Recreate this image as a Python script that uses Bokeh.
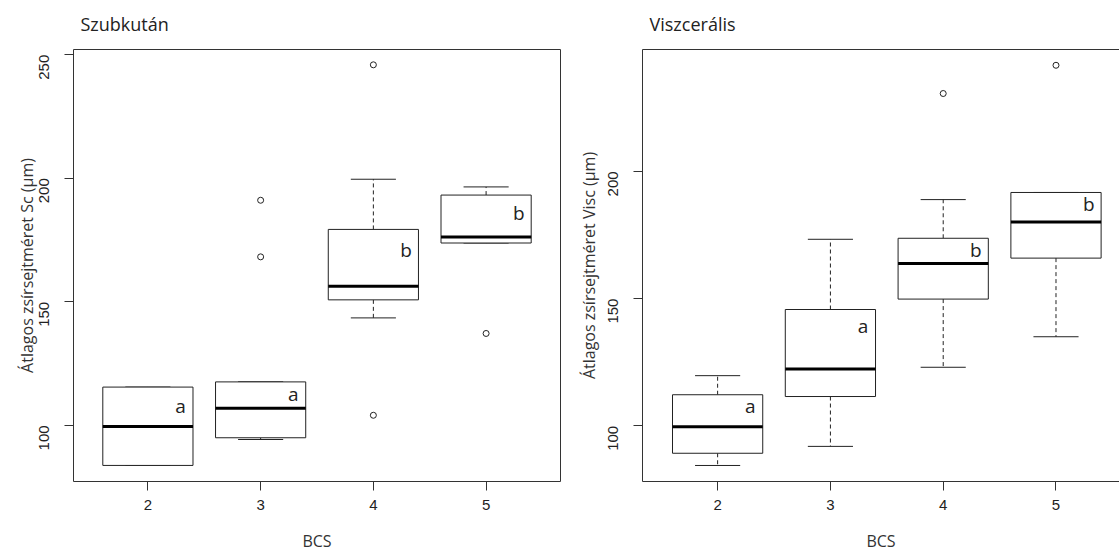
from bokeh.plotting import figure
from bokeh.models import Range1d, FixedTicker, LinearAxis, ColumnDataSource
from bokeh.layouts import row
from bokeh.core.properties import value
from bokeh.embed import file_html
from bokeh.resources import INLINE

# ---------------- data ----------------
bcs = ["2", "3", "4", "5"]

# Szubkután panel
sc_low = [83.8, 94.3, 143.5, 173.8]
sc_q1 = [83.8, 95.0, 150.8, 173.8]
sc_med = [99.6, 106.9, 156.3, 176.2]
sc_q3 = [115.5, 117.6, 179.3, 193.2]
sc_high = [115.5, 117.6, 199.6, 196.5]
sc_out_bcs = ["3", "3", "4", "4", "5"]
sc_out_val = [191.1, 168.2, 245.9, 104.1, 137.2]
sc_letters = ["a", "a", "b", "b"]
sc_letter_y = [107.7, 112.6, 170.9, 186.0]

# Viszcerális panel
vi_low = [84.4, 91.9, 123.0, 135.0]
vi_q1 = [89.2, 111.5, 149.8, 165.9]
vi_med = [99.6, 122.3, 163.8, 180.1]
vi_q3 = [112.2, 145.7, 173.7, 191.7]
vi_high = [119.7, 173.3, 188.9, 191.7]
vi_out_bcs = ["4", "5"]
vi_out_val = [230.6, 241.7]
vi_letters = ["a", "a", "b", "b"]
vi_letter_y = [107.6, 139.2, 168.9, 187.0]

sc_yticks = [100, 150, 200, 250]
vi_yticks = [100, 150, 200]

TXT = "Open Sans"
NUM = "Liberation Sans"
INK = "#222222"
EDGE = "#333333"


def style_axis(ax, ticks, overrides=None):
    ax.ticker = FixedTicker(ticks=ticks)
    if overrides:
        ax.major_label_overrides = overrides
    ax.minor_tick_line_color = None
    ax.major_tick_in = 0
    ax.major_tick_out = 9
    ax.major_tick_line_color = EDGE
    ax.axis_line_color = EDGE
    ax.major_label_text_font = NUM
    ax.major_label_text_font_size = "15px"
    ax.major_label_text_color = INK
    ax.axis_label_text_font = TXT
    ax.axis_label_text_font_size = "16px"
    ax.axis_label_text_font_style = "normal"
    ax.axis_label_text_color = "#333333"


def edge_axis(p, side):
    ax = LinearAxis(ticker=FixedTicker(ticks=[]), axis_line_color=EDGE,
                    major_tick_line_color=None, minor_tick_line_color=None,
                    major_tick_out=0, major_tick_in=0, major_label_standoff=0,
                    major_label_text_font_size="0px")
    p.add_layout(ax, side)


def panel(title, ylabel, low, q1, med, q3, high, out_bcs, out_val,
          letters, letter_y, yticks, xr, yr, width, mbl, mbr, right_edge,
          ylab_standoff, t_standoff):
    pos = [i + 1 for i in range(len(bcs))]
    p = figure(width=width, height=554, x_range=Range1d(*xr), y_range=Range1d(*yr),
               output_backend="svg", toolbar_location=None,
               min_border_left=mbl, min_border_right=mbr,
               min_border_top=49, min_border_bottom=73)
    p.grid.visible = False
    p.outline_line_color = None
    p.background_fill_color = "white"
    p.border_fill_color = "white"

    p.title.text = title
    p.title.align = "left"
    p.title.vertical_align = "top"
    p.title.offset = 7
    p.title.text_font = TXT
    p.title.text_font_size = "18px"
    p.title.text_font_style = "normal"
    p.title.text_color = "#222222"
    p.title.standoff = t_standoff

    src = ColumnDataSource(dict(
        x=pos,
        left=[x - 0.4 for x in pos], right=[x + 0.4 for x in pos],
        sl=[x - 0.2 for x in pos], sr=[x + 0.2 for x in pos],
        low=low, q1=q1, med=med, q3=q3, high=high,
        lx=[x + 0.29 for x in pos], ly=letter_y, txt=letters,
    ))
    # whiskers
    p.segment(x0="x", y0="q3", x1="x", y1="high", source=src,
              line_color=INK, line_width=1, line_dash="4 3")
    p.segment(x0="x", y0="q1", x1="x", y1="low", source=src,
              line_color=INK, line_width=1, line_dash="4 3")
    # staples
    p.segment(x0="sl", y0="high", x1="sr", y1="high", source=src,
              line_color=INK, line_width=1)
    p.segment(x0="sl", y0="low", x1="sr", y1="low", source=src,
              line_color=INK, line_width=1)
    # boxes
    p.quad(left="left", right="right", bottom="q1", top="q3", source=src,
           fill_color="white", line_color=INK, line_width=1)
    # medians
    p.segment(x0="left", y0="med", x1="right", y1="med", source=src,
              line_color="black", line_width=3)
    # outliers
    ox = [bcs.index(b) + 1 for b in out_bcs]
    p.scatter(ox, out_val, marker="circle", size=6, fill_color=None,
              line_color=INK, line_width=1)
    # group letters
    p.text(x="lx", y="ly", text="txt", source=src, text_align="center",
           text_baseline="middle", text_font=value(TXT),
           text_font_size="19px", text_color="#222222")

    style_axis(p.xaxis[0], pos, {i + 1: b for i, b in enumerate(bcs)})
    style_axis(p.yaxis[0], yticks)
    p.xaxis.axis_label = "BCS"
    p.yaxis.axis_label = ylabel
    p.xaxis.major_label_standoff = 9
    p.xaxis.axis_label_standoff = 17
    p.yaxis.major_label_orientation = 1.5708
    p.yaxis.major_label_standoff = 20
    p.yaxis.axis_label_standoff = ylab_standoff

    edge_axis(p, "above")
    if right_edge:
        edge_axis(p, "right")
    return p


p1 = panel("Szubkután", "Átlagos zsírsejtméret Sc (µm)",
           sc_low, sc_q1, sc_med, sc_q3, sc_high, sc_out_bcs, sc_out_val,
           sc_letters, sc_letter_y, sc_yticks,
           (0.34, 4.66), (77.3, 252.1), 562, 73, 2, True, -6, 23)
p2 = panel("Viszcerális", "Átlagos zsírsejtméret Visc (µm)",
           vi_low, vi_q1, vi_med, vi_q3, vi_high, vi_out_bcs, vi_out_val,
           vi_letters, vi_letter_y, vi_yticks,
           (0.334, 4.563), (78.1, 247.9), 557, 80, 0, False, 1, 23)

layout = row(p1, p2)
open("out.html", "w").write(file_html(layout, INLINE))
